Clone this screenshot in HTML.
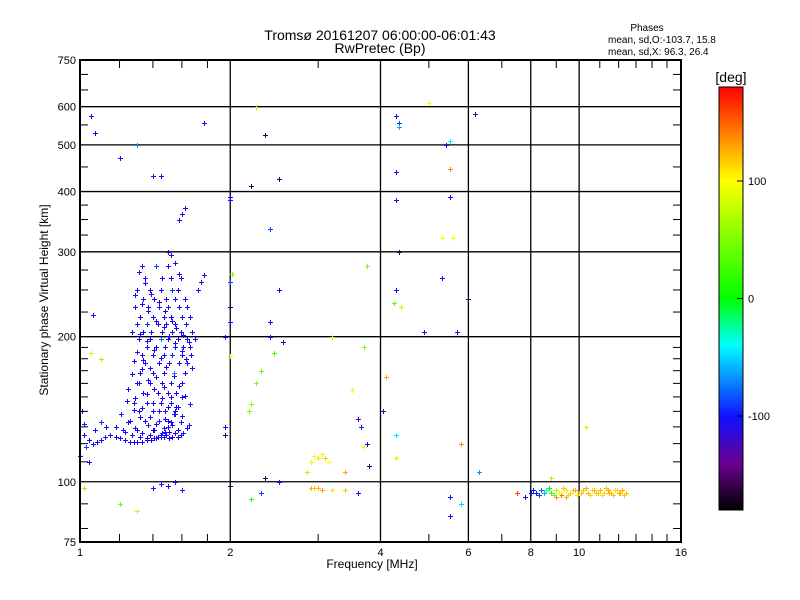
<!DOCTYPE html>
<html><head><meta charset="utf-8"><style>
body{margin:0;background:#fff;}
svg{display:block;font-family:"Liberation Sans",sans-serif;}
</style></head><body>
<svg id="chart" width="800" height="600" viewBox="0 0 800 600">
<defs>
<linearGradient id="cb" x1="0" y1="1" x2="0" y2="0">
<stop offset="0" stop-color="#000000"/>
<stop offset="0.11" stop-color="#6a0090"/>
<stop offset="0.22" stop-color="#1010ff"/>
<stop offset="0.39" stop-color="#00ffff"/>
<stop offset="0.5" stop-color="#00ff00"/>
<stop offset="0.78" stop-color="#ffff00"/>
<stop offset="0.89" stop-color="#ff8000"/>
<stop offset="1" stop-color="#ff0000"/>
</linearGradient>
</defs>
<text x="380" y="40" font-size="14" text-anchor="middle">Tromsø 20161207 06:00:00-06:01:43</text>
<text x="380" y="53" font-size="14" text-anchor="middle">RwPretec (Bp)</text>
<text x="647" y="31" font-size="10" text-anchor="middle">Phases</text>
<text x="608" y="43" font-size="10">mean, sd,O:-103.7, 15.8</text>
<text x="608" y="55" font-size="10">mean, sd,X:  96.3, 26.4</text>
<g id="grid"></g>
<g id="marks" shape-rendering="crispEdges"></g>
<rect x="80" y="60" width="601" height="482" fill="none" stroke="#000" stroke-width="2"/>
<g id="axes"></g>
<text x="372" y="568" font-size="12" text-anchor="middle">Frequency [MHz]</text>
<text transform="translate(48,300) rotate(-90)" font-size="12" text-anchor="middle">Stationary phase Virtual Height [km]</text>
<rect x="719" y="87" width="24" height="423" fill="url(#cb)" stroke="#000" stroke-width="1"/>
<text x="731" y="82" font-size="14" text-anchor="middle">[deg]</text>
<g id="cbticks"></g>
</svg>
<script>
const xTicks=[1,2,4,6,8,10,16];
const xGrid=[2,4,6,8,10];
const xMinor=[1.2,1.4,1.6,1.8,3,5,7,9,11,12,13,14,15];
const yTicks=[75,100,200,300,400,500,600,750];
const yGrid=[100,200,300,400,500,600];
const yMinor=[80,90,110,120,130,140,150,160,170,180,190,225,250,275,325,350,375,450,550,650,700];
const cbTicks=[100,0,-100];
const freqs=[1.02,1.04,1.06,1.08,1.10,1.12,1.15,1.18,1.2,1.23,1.26,1.28,1.3,1.33,1.36,1.39,1.42,1.45,1.48,1.5,1.52,1.55,1.57,1.6,
1.01,1.02,1.03,1.04,1.07,1.1,1.13,1.0,1.06,1.05,
1.33,1.42,1.5,1.35,1.46,1.52,1.59,1.3,1.38,1.45,1.53,1.57,1.34,1.41,1.49,1.55,1.62,1.29,1.37,1.44,1.5,1.58,1.64,
1.32,1.4,1.47,1.52,1.6,1.66,1.3,1.36,1.43,1.49,1.55,1.63,1.27,1.34,1.39,1.46,1.53,1.59,1.68,1.31,1.38,1.45,1.5,1.57,1.64,1.7,
1.36,1.42,1.48,1.55,1.61,1.66,1.33,1.4,1.47,1.53,1.6,1.67,1.35,1.44,1.51,1.58,1.64,1.32,1.4,1.47,1.54,1.62,1.3,1.38,1.46,1.52,1.6,
1.34,1.43,1.5,1.56,1.28,1.36,1.45,1.52,1.31,1.4,1.48,1.55,1.26,1.35,1.44,1.5,1.22,1.3,1.4,
1.5,1.52,1.55,1.58,1.6,1.62,1.58,1.75,1.77,1.72,1.4,
1.31,1.35,1.39,1.44,1.48,1.53,1.56,1.61,1.65,1.29,1.33,1.37,1.42,1.47,1.51,1.55,1.6,1.63,1.68,1.32,1.36,1.41,1.45,1.49,1.54,1.58,1.62,1.66,
1.3,1.34,1.38,1.42,1.47,1.52,1.56,1.6,1.65,1.28,1.33,1.37,1.41,1.46,1.5,1.54,1.59,1.64,1.27,1.31,1.36,1.4,1.44,1.48,1.53,1.57,1.61,
1.25,1.29,1.33,1.38,1.42,1.47,1.51,1.55,1.59,1.24,1.28,1.32,1.37,1.41,1.46,1.49,1.53,1.57,1.21,1.25,1.29,1.33,1.38,1.43,1.47,1.51,1.18,1.23,1.27,1.32,1.36,1.41,1.45,1.49,
1.07,1.2,1.3,1.45,1.77,2.0,2.0,2.2,2.25,2.35,2.4,2.5,2.0,2.02,2.0,2.0,2.3,2.25,2.2,2.18,2.4,2.4,2.45,2.5,2.55,2.0,1.95,1.95,1.95,1.65,1.05,1.1,
1.02,1.4,1.45,1.5,1.55,1.6,1.3,1.2,2.0,2.2,2.3,2.35,2.5,
2.95,3.0,3.05,3.1,3.15,2.9,2.85,2.9,2.95,3.0,3.05,3.2,3.4,
3.2,3.5,3.6,3.65,3.7,3.7,3.75,3.8,3.6,3.75,3.4,
4.3,4.35,4.35,4.3,4.3,4.35,4.3,4.25,4.4,4.1,4.3,4.3,4.05,
5.0,5.4,5.5,5.5,5.5,5.3,5.6,5.3,5.8,5.5,5.5,5.8,6.2,5.7,6.0,6.3,4.9,7.5,7.8,10.3,
8.0,8.2,8.4,8.6,8.8,9.0,9.2,9.4,9.6,9.8,10,10.2,10.4,10.6,10.8,11,11.2,11.4,11.6,11.8,12,12.2,12.4,9.0,9.4,8.8,9.2,
8.1,8.3,8.5,8.7,8.9,9.1,9.3,9.5,9.7,9.9,10.1,10.3,10.5,10.7,10.9,11.1,11.3,11.5,11.7,11.9,12.1,12.3];
const heights=[125,122,120,121,122,124,125,124,123,122,121,121,121,121,122,122,123,125,127,130,133,138,143,150,
140,132,118,110,128,133,130,113,222,575,
280,280,280,265,265,265,265,250,250,250,250,250,240,240,240,240,240,230,230,230,230,230,230,
220,220,220,220,220,220,212,212,212,212,212,212,205,205,205,205,205,205,205,198,198,198,198,198,198,198,
190,190,190,190,190,190,183,183,183,183,183,183,176,176,176,176,176,168,168,168,168,168,160,160,160,160,160,
153,153,153,153,146,146,146,146,140,140,140,140,134,134,134,134,128,128,128,
300,295,285,270,360,370,350,260,268,250,430,
272,258,245,236,226,216,208,202,195,244,234,226,216,209,201,194,187,180,172,203,196,188,181,173,166,158,151,145,
186,179,172,165,157,150,143,137,131,178,171,163,156,149,143,138,133,129,167,160,152,146,140,135,131,128,126,
156,149,142,136,132,129,127,126,125,147,141,136,131,128,126,125,124,124,138,133,129,126,125,124,124,123,130,127,125,124,123,123,124,125,
530,470,500,430,555,390,385,410,600,525,335,425,215,270,260,230,170,160,145,140,200,215,185,250,195,182,200,130,125,195,185,180,
97,97,99,98,100,96,87,90,98,92,95,102,100,
113,112,114,112,110,110,105,97,97,97,96,96,96,
200,155,135,130,118,190,120,108,95,280,105,
575,555,545,440,385,300,250,235,230,165,125,112,140,
610,500,510,445,390,320,320,265,120,93,85,90,580,205,240,105,205,95,93,130,
95,95,96,96,95,96,95,96,95,96,95,96,95,96,95,96,95,96,95,96,95,96,95,93,93,102,94,
96,94,95,97,94,95,97,94,96,94,95,97,94,96,95,94,97,95,94,96,95,94];
const phases=[-110,-115,-105,-120,-110,-100,-115,-120,-110,-125,-115,-110,-120,-115,-125,-110,-120,-115,-110,-125,-115,-110,-120,-115,
-110,-100,-90,-120,-110,-95,-130,-110,-100,-110,
-110,-90,-120,-105,-115,-130,-100,-110,-125,-110,-95,-120,-110,-135,-115,-105,-125,-110,-120,-100,-130,-115,-110,
-125,-110,-105,-120,-130,-115,-110,-95,-125,-110,-120,-105,-115,-130,-110,-120,-100,-115,-125,-110,-120,-80,-115,-130,-105,-120,
-110,-125,-115,-105,-120,-130,-115,-110,-125,-95,-120,-110,-105,-120,-115,-130,-110,-115,-125,-110,-70,-120,-110,-115,-125,-105,-120,
-110,-120,-130,-115,-105,-115,-125,-110,-120,-110,-130,-115,-110,-120,-105,-115,-110,-125,-115,
-150,-140,-110,-120,-130,-120,-140,-110,-115,-120,-110,
-110,-120,-105,-130,-115,-110,-125,-100,-115,-110,-120,-105,-130,-110,-115,-120,-105,-125,-110,-115,-110,-120,-105,-130,-115,-110,-125,-100,
-110,-120,-115,-105,-130,-110,-120,-115,-110,-125,-110,-105,-120,-115,-130,-110,-120,-110,-115,-110,-120,-105,-115,-125,-110,-120,-115,
-110,-115,-120,-105,-115,-125,-110,-120,-115,-110,-120,-115,-110,-125,-105,-115,-120,-110,-100,-110,-115,-120,-125,-115,-110,-120,-105,-110,-115,-120,-125,-115,-110,-120,
-120,-110,-70,-110,-110,-120,-130,-170,60,-170,-90,-170,-110,50,-90,-170,40,50,60,40,-110,-110,30,-130,-160,80,-130,-110,-170,-110,80,60,
60,-110,-110,-120,-110,-100,70,40,-170,10,-90,-170,-110,
100,110,90,120,100,90,70,130,120,125,130,110,120,
80,90,-150,-100,100,50,-120,-170,-110,50,130,
-110,-90,-60,-110,-110,-170,-110,40,80,130,-50,80,-150,
100,-120,-40,140,-130,100,100,-110,140,-110,-110,-50,-150,-110,-170,-70,-130,160,-150,80,
-110,-100,-80,-30,20,60,100,110,120,130,115,120,130,110,120,125,115,130,120,110,125,130,120,140,130,60,150,
-110,-90,-60,0,40,90,120,115,125,110,120,130,115,125,120,110,125,130,120,115,125,120];

const X0=80,X1=681,Y0=542,Y1=60;
function xs(f){return X0+(X1-X0)*Math.log2(f)/4;}
function ys(h){return Y0-(Y0-Y1)*Math.log10(h/75);}
const stops=[[-180,[0,0,0]],[-160,[80,0,170]],[-120,[30,0,255]],[-100,[10,30,255]],[-40,[0,255,255]],[0,[0,255,0]],[100,[255,255,0]],[140,[255,140,0]],[180,[255,0,0]]];
function col(p){for(let i=1;i<stops.length;i++){if(p<=stops[i][0]){const a=stops[i-1],b=stops[i],t=(p-a[0])/(b[0]-a[0]);return 'rgb('+a[1].map((v,k)=>Math.round(v+(b[1][k]-v)*t)).join(',')+')';}}return 'rgb(255,0,0)';}
const NS='http://www.w3.org/2000/svg';
function mk(tag,attrs,parent){const e=document.createElementNS(NS,tag);for(const k in attrs)e.setAttribute(k,attrs[k]);parent.appendChild(e);return e;}
const grid=document.getElementById('grid'),axes=document.getElementById('axes'),marks=document.getElementById('marks'),cbt=document.getElementById('cbticks');
xGrid.forEach(f=>{const l=mk('line',{x1:xs(f),x2:xs(f),y1:Y1,y2:Y0,stroke:'#000','stroke-width':1.3},grid);

});
yGrid.forEach(h=>{const l=mk('line',{x1:X0,x2:X1,y1:ys(h),y2:ys(h),stroke:'#000','stroke-width':1.3},grid);

});
xMinor.forEach(f=>{[[Y0,Y0-8],[Y1,Y1+8]].forEach(p=>{const l=mk('line',{x1:xs(f),x2:xs(f),y1:p[0],y2:p[1],stroke:'#000','stroke-width':1},axes);

});});
yMinor.forEach(h=>{[[X0,X0+8],[X1,X1-8]].forEach(p=>{const l=mk('line',{x1:p[0],x2:p[1],y1:ys(h),y2:ys(h),stroke:'#000','stroke-width':1},axes);

});});
xTicks.forEach(f=>{const t=mk('text',{x:xs(f),y:556,'font-size':11,'text-anchor':'middle'},axes);t.textContent=f;

});
yTicks.forEach(h=>{const t=mk('text',{x:76,y:ys(h)+4,'font-size':11,'text-anchor':'end'},axes);t.textContent=h;

});
cbTicks.forEach(v=>{const y=510-(v+180)/360*423;const t=mk('text',{x:748,y:y+4,'font-size':11},cbt);t.textContent=v;


const l=mk('line',{x1:743,x2:737,y1:y,y2:y,stroke:'#000'},cbt);

});
for(let i=0;i<freqs.length;i++){const x=Math.round(xs(freqs[i])),y=Math.round(ys(heights[i])),c=col(phases[i]);
const g=mk('path',{d:'M'+(x-2)+' '+y+'h5v1h-5zM'+x+' '+(y-2)+'h1v5h-1z',fill:c,stroke:'none'},marks);

}
</script>
</body></html>
